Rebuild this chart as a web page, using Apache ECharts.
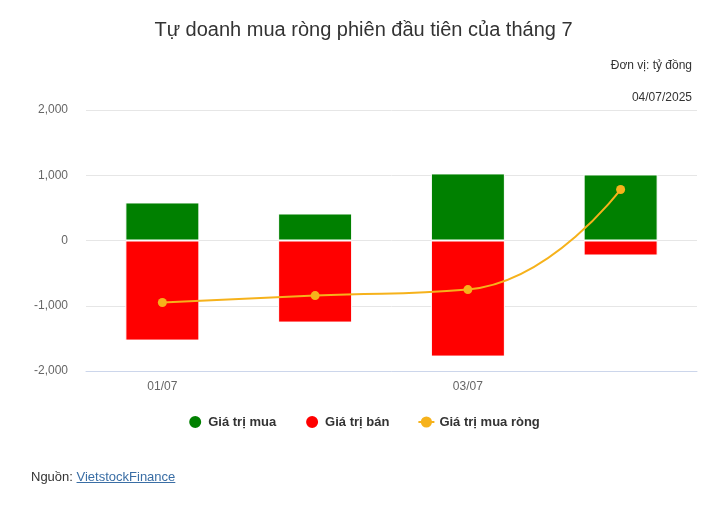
<!DOCTYPE html>
<html>
<head>
<meta charset="utf-8">
<script src="https://cdn.jsdelivr.net/npm/echarts@6/dist/echarts.min.js"></script>
<style>
  body { margin: 0; background: #fff; }
  #chart { width: 727px; height: 505px; }
  #source { position: absolute; left: 31px; top: 469px; font-family: "Liberation Sans", Arial, sans-serif; font-size: 13px; color: #333; }
  #source a { color: #3a6ea5; text-decoration: underline; }
</style>
</head>
<body>
<div id="chart"></div>
<div id="source">Nguồn: <a href="#">VietstockFinance</a></div>
<script>
var categories = ['01/07', '02/07', '03/07', '04/07'];
var buyValues = [583, 414, 1028, 1012];
var sellValues = [-1534, -1258, -1779, -230];
var netValues = [-951, -844, -752, 782];

var fontFamily = '"Liberation Sans", Arial, sans-serif';
var chart = echarts.init(document.getElementById('chart'));

var option = {
    animation: false,
    textStyle: { fontFamily: fontFamily },
    title: {
        text: 'Tự doanh mua ròng phiên đầu tiên của tháng 7',
        left: 'center',
        top: 15,
        textStyle: { fontSize: 20, fontWeight: 'normal', color: '#333', fontFamily: fontFamily }
    },
    graphic: [
        { type: 'text', right: 35, top: 60, style: { text: 'Đơn vị: tỷ đồng', fontSize: 12, fill: '#333', fontFamily: fontFamily } },
        { type: 'text', right: 35, top: 92, style: { text: '04/07/2025', fontSize: 12, fill: '#333', fontFamily: fontFamily } }
    ],
    legend: {
        bottom: 70,
        left: 'center',
        itemGap: 28,
        itemWidth: 16,
        itemHeight: 14,
        textStyle: { fontSize: 13, fontWeight: 'bold', color: '#333', fontFamily: fontFamily },
        data: [
            { name: 'Giá trị mua', icon: 'circle' },
            { name: 'Giá trị bán', icon: 'circle' },
            { name: 'Giá trị mua ròng' }
        ]
    },
    grid: { left: 86, right: 30, top: 110, bottom: 134 },
    xAxis: {
        type: 'category',
        data: categories,
        axisLine: { onZero: false, lineStyle: { color: '#ccd6eb' } },
        axisTick: { show: false },
        axisLabel: { interval: 1, color: '#666', fontSize: 12, margin: 10 }
    },
    yAxis: {
        type: 'value',
        min: -2000,
        max: 2000,
        interval: 1000,
        axisLine: { show: false },
        axisTick: { show: false },
        splitLine: { lineStyle: { color: '#e6e6e6' } },
        axisLabel: {
            color: '#666',
            fontSize: 12,
            margin: 18,
            formatter: function (v) { return echarts.format.addCommas(v); }
        }
    },
    series: [
        {
            name: 'Giá trị mua',
            type: 'bar',
            stack: 'gt',
            data: buyValues,
            barWidth: 74,
            itemStyle: { color: '#008000', borderColor: '#fff', borderWidth: 1 }
        },
        {
            name: 'Giá trị bán',
            type: 'bar',
            stack: 'gt',
            data: sellValues,
            barWidth: 74,
            itemStyle: { color: '#ff0000', borderColor: '#fff', borderWidth: 1 }
        },
        {
            name: 'Giá trị mua ròng',
            type: 'line',
            data: netValues,
            smooth: 0.5,
            symbol: 'circle',
            symbolSize: 9,
            lineStyle: { color: '#f6b21b', width: 2 },
            itemStyle: { color: '#f6b21b' },
            z: 5
        }
    ]
};

chart.setOption(option);
</script>
</body>
</html>
